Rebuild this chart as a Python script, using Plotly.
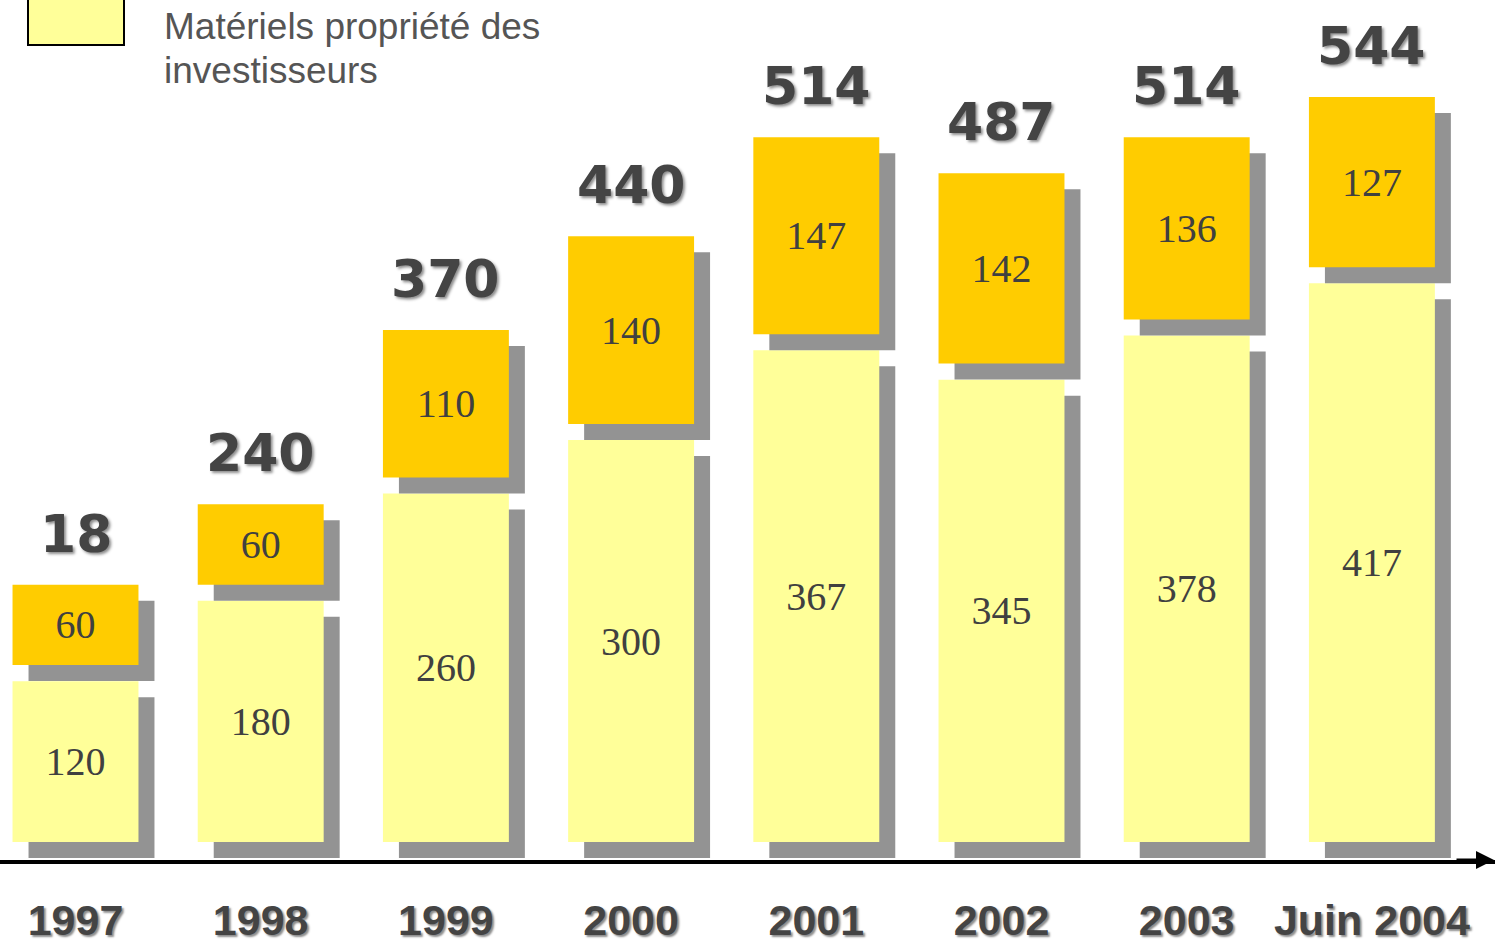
import plotly.graph_objects as go

# ---------------- data ----------------
categories = ["1997", "1998", "1999", "2000", "2001", "2002", "2003", "Juin 2004"]
investor_owned = [120, 180, 260, 300, 367, 345, 378, 417]   # light yellow
other_equipment = [60, 60, 110, 140, 147, 142, 136, 127]    # orange
total_labels = ["18", "240", "370", "440", "514", "487", "514", "544"]
legend_lines = ["Matériels propriété des", "investisseurs"]

# ---------------- layout constants ----------------
W, H = 1495, 946
MB = 86                      # bottom margin (axis line at y=860 px)
PLOT_H = H - MB
PX_PER_UNIT = 1.34           # vertical scale
ZERO_PX_ABOVE_AXIS = 18      # baseline of bars sits a little above the axis line
CAT_PX = 185.2               # px per category
FIRST_CENTER_PX = 75.5
BAR_W = 0.68
SHADOW_PX = 16
GAP = 12                     # gap (in value units) between the two blocks

y_min = -ZERO_PX_ABOVE_AXIS / PX_PER_UNIT
y_max = (PLOT_H - ZERO_PX_ABOVE_AXIS) / PX_PER_UNIT
x_min = -FIRST_CENTER_PX / CAT_PX
x_max = x_min + W / CAT_PX
dx = SHADOW_PX / CAT_PX
dy = SHADOW_PX / PX_PER_UNIT

LIGHT = "#FFFF99"
ORANGE = "#FFCC00"
SHADOW = "#939393"
TXT = "#404040"
SERIF = "Liberation Serif, Times New Roman, serif"

orange_base = [v + GAP for v in investor_owned]
orange_top = [b + o for b, o in zip(orange_base, other_equipment)]

fig = go.Figure()

# shadow of light bars
fig.add_trace(go.Bar(
    x=categories, y=investor_owned, base=[-dy] * len(categories),
    width=BAR_W, offset=-BAR_W / 2 + dx, marker=dict(color=SHADOW, line=dict(width=0)),
    hoverinfo="skip", showlegend=False))
# light bars
fig.add_trace(go.Bar(
    x=categories, y=investor_owned, base=[0] * len(categories),
    width=BAR_W, offset=-BAR_W / 2, marker=dict(color=LIGHT, line=dict(width=0)),
    text=[str(v) for v in investor_owned], textposition="inside",
    insidetextanchor="middle", textangle=0, constraintext="none",
    textfont=dict(family=SERIF, size=40, color=TXT),
    showlegend=False, name="Matériels propriété des investisseurs"))
# shadow of orange blocks
fig.add_trace(go.Bar(
    x=categories, y=other_equipment, base=[b - dy for b in orange_base],
    width=BAR_W, offset=-BAR_W / 2 + dx, marker=dict(color=SHADOW, line=dict(width=0)),
    hoverinfo="skip", showlegend=False))
# orange blocks
fig.add_trace(go.Bar(
    x=categories, y=other_equipment, base=orange_base,
    width=BAR_W, offset=-BAR_W / 2, marker=dict(color=ORANGE, line=dict(width=0)),
    text=[str(v) for v in other_equipment], textposition="inside",
    insidetextanchor="middle", textangle=0, constraintext="none",
    textfont=dict(family=SERIF, size=40, color=TXT),
    showlegend=False))

annotations = []
for i, (top, lab) in enumerate(zip(orange_top, total_labels)):
    annotations.append(dict(
        x=i, y=top, xref="x", yref="y", text=lab, showarrow=False,
        xanchor="center", yanchor="bottom", yshift=19,
        font=dict(family="DejaVu Sans, Liberation Sans, Arial", size=52, color="#444444",
                  weight="bold", shadow="2px 2px 3px rgba(0,0,0,0.45)")))

# legend text (two lines)
for line, ypx in zip(legend_lines, [27, 70]):
    annotations.append(dict(
        x=162 / W, y=1 - ypx / PLOT_H, xref="paper", yref="paper",
        xanchor="left", yanchor="middle", align="left", showarrow=False, text=line,
        font=dict(family="Liberation Sans, Arial", size=37, color="#555555")))

# arrow at the right end of the axis
annotations.append(dict(
    x=1, y=0, xref="paper", yref="paper", ax=-40, ay=0, axref="pixel", ayref="pixel",
    text="", showarrow=True, arrowhead=2, arrowsize=1.2, arrowwidth=3, arrowcolor="black"))

shapes = [dict(
    type="rect", xref="paper", yref="paper",
    x0=28 / W, x1=124 / W, y0=1 - 45 / PLOT_H, y1=1 + 2 / PLOT_H,
    fillcolor=LIGHT, line=dict(color="black", width=2), layer="above")]

fig.update_layout(
    width=W, height=H,
    margin=dict(l=0, r=0, t=0, b=MB, pad=0, autoexpand=False),
    paper_bgcolor="white", plot_bgcolor="white",
    barmode="overlay",
    showlegend=False,
    annotations=annotations,
    shapes=shapes,
    xaxis=dict(
        type="category", range=[x_min, x_max], showgrid=False, zeroline=False,
        showline=True, linecolor="black", linewidth=4, automargin=False,
        ticks="", ticklabelstandoff=19,
        tickfont=dict(family="Liberation Sans, Arial", size=43, color="#444444",
                      weight="bold", shadow="2px 2px 2px rgba(0,0,0,0.45)")),
    yaxis=dict(range=[y_min, y_max], visible=False, showgrid=False, zeroline=False,
               automargin=False),
)

fig.write_html("out.html")
